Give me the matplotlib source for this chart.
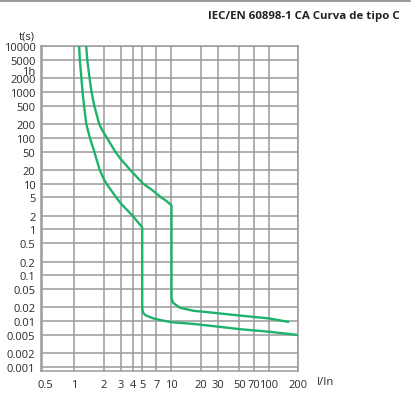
import numpy as np
import matplotlib.pyplot as plt
from matplotlib.lines import Line2D

plt.rcParams['font.family'] = ['Open Sans', 'DejaVu Sans']

# Curva inferior (disparo magnético a 5 In)
i_low = [1.122, 1.141, 1.184, 1.217, 1.26, 1.329, 1.447, 1.606, 1.824, 2.0, 2.136, 2.362, 2.697,
         3.0, 4.0, 5.0, 5.0, 5.08, 5.4, 6.5, 8.0, 10, 17, 30, 50, 100, 200]
t_low = [10000, 5000, 2000, 1000, 500, 200, 100, 50, 20, 12.9, 10, 7.43, 5.0,
         3.72, 1.97, 1.11, 0.020, 0.0155, 0.0135, 0.0115, 0.0104, 0.0095, 0.0087, 0.0076,
         0.0067, 0.0059, 0.0050]

# Curva superior (disparo magnético a 10 In)
i_high = [1.328, 1.36, 1.437, 1.505, 1.606, 1.803, 1.932, 2.161, 2.639, 2.95, 3.75, 4.35, 5.11,
          6.41, 7.86, 8.88, 10, 10, 10.4, 12.3, 17, 23, 50, 100, 158]
t_high = [10000, 5000, 2000, 1000, 500, 200, 148, 100, 50, 35.9, 20, 14.3, 10,
          7.07, 4.95, 4.17, 3.35, 0.032, 0.025, 0.0195, 0.0168, 0.0158, 0.0133, 0.0115, 0.0097]

x_grid = [1, 2, 3, 4, 5, 7, 10, 20, 30, 50, 70, 100, 200]
x_labels = ['1', '2', '3', '4', '5', '7', '10', '20', '30', '50', '70', '100', '200']
y_grid = [10000, 5000, 2000, 1000, 500, 200, 100, 50, 20, 10, 5, 2, 1, 0.5, 0.2, 0.1,
          0.05, 0.02, 0.01, 0.005, 0.002, 0.001]
y_labels = ['10000', '5000', '2000', '1000', '500', '200', '100', '50', '20', '10', '5', '2', '1',
            '0.5', '0.2', '0.1', '0.05', '0.02', '0.01', '0.005', '0.002', '0.001']

verde = '#1db36b'
gris = '#9a9a9a'
texto = '#2b2b2b'

W, H = 414, 402
fig = plt.figure(figsize=(W / 100, H / 100), dpi=100)
ax = fig.add_axes([41 / W, 1 - 372 / H, (298 - 41) / W, (372 - 47) / H])

ax.set_xscale('log')
ax.set_yscale('log')
ax.set_xlim(0.455, 200)
ax.set_ylim(0.00082, 10000)

ax.set_xticks(x_grid)
ax.set_xticklabels(x_labels)
ax.set_xticks([0.5], ['0.5'], minor=True)
ax.set_yticks(y_grid)
ax.set_yticklabels(y_labels)
ax.set_yticks([], minor=True)

ax.tick_params(which='both', length=0, labelsize=8, colors=texto)
ax.tick_params(axis='x', which='both', pad=6)
ax.tick_params(axis='y', which='both', pad=4)
ax.grid(True, which='major', color=gris, linewidth=1.1)
ax.grid(False, which='minor')
ax.axvline(0.47, color=gris, linewidth=1.1)

# etiqueta "1h" (3600 s), algo desplazada como en el original
ax.annotate('1h', xy=(0, 3600), xycoords=('axes fraction', 'data'), xytext=(-4, -3.5),
            textcoords='offset points', ha='right', va='center', fontsize=8, color=texto)

for s in ax.spines.values():
    s.set_color(gris)
    s.set_linewidth(1.1)

ax.plot(i_low, t_low, color=verde, linewidth=1.7, solid_joinstyle='round', zorder=3)
ax.plot(i_high, t_high, color=verde, linewidth=1.7, solid_joinstyle='round', zorder=3)

fig.text(35 / W, 1 - 37 / H, 't(s)', ha='right', va='center', fontsize=8, color=texto)
fig.text(325 / W, 1 - 383 / H, 'I/In', ha='center', va='center', fontsize=8, color=texto)
fig.text(400 / W, 1 - 17 / H, 'IEC/EN 60898-1 CA Curva de tipo C', ha='right', va='center',
         fontsize=8.25, fontweight='bold', color='#222222')
fig.add_artist(Line2D([0, 0.99], [1 - 1.5 / H, 1 - 1.5 / H], color='#888888', linewidth=1.2))

fig.savefig('out.png', dpi=100)
